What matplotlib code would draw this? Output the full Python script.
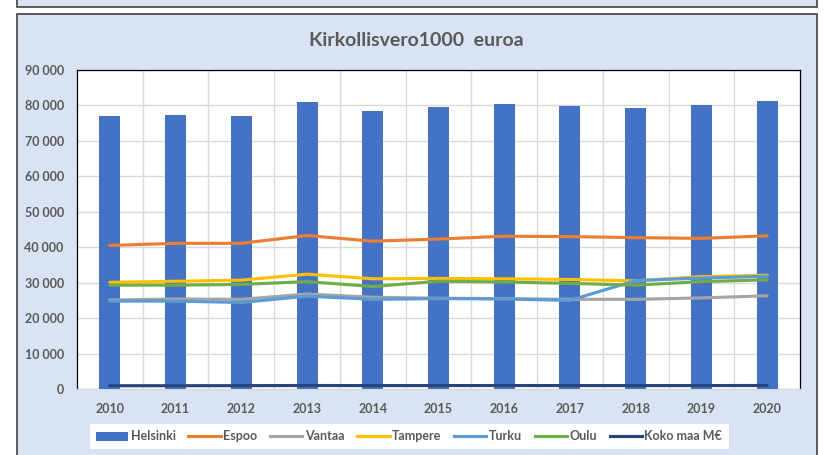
import matplotlib.pyplot as plt
from matplotlib.patches import Rectangle, Patch
from matplotlib.lines import Line2D
from matplotlib.ticker import FuncFormatter, MultipleLocator

years = ['2010', '2011', '2012', '2013', '2014', '2015', '2016', '2017', '2018', '2019', '2020']
helsinki = [77000, 77300, 77000, 81000, 78500, 79500, 80300, 79900, 79300, 80000, 81300]
espoo = [40500, 41100, 41100, 43300, 41700, 42300, 43100, 43000, 42700, 42500, 43200]
vantaa = [25100, 25400, 25300, 26800, 25900, 25600, 25500, 25300, 25300, 25700, 26300]
tampere = [30100, 30400, 30700, 32400, 31100, 31200, 31100, 30900, 30500, 31700, 32100]
turku = [24800, 24800, 24400, 26200, 25300, 25500, 25400, 25000, 30600, 31300, 31800]
oulu = [29300, 29300, 29500, 30300, 28900, 30400, 30200, 29800, 29300, 30300, 30800]
koko_maa = [920, 930, 940, 990, 960, 970, 980, 970, 960, 970, 990]

line_series = [
    ('Espoo', espoo, '#ED7D31'),
    ('Vantaa', vantaa, '#A5A5A5'),
    ('Tampere', tampere, '#FFC000'),
    ('Turku', turku, '#5B9BD5'),
    ('Oulu', oulu, '#70AD47'),
    ('Koko maa M€', koko_maa, '#264478'),
]

plt.rcParams['font.family'] = ['Lato', 'DejaVu Sans']
text_grey = '#595959'
small = 9

fig = plt.figure(figsize=(8.33, 4.55), dpi=100)
W, H = 833, 455

# top box (cut off) and chart area box
fig.patches.append(Rectangle((17 / W, 1 - 7 / H), 800 / W, 20 / H, transform=fig.transFigure,
                             facecolor='#DAE3F3', edgecolor='#404040', lw=1.2, zorder=-5))
fig.patches.append(Rectangle((17 / W, -0.05), 800 / W, 1 - 14 / H + 0.05, transform=fig.transFigure,
                             facecolor='#DAE3F3', edgecolor='#404040', lw=1.2, zorder=-5))

ax = fig.add_axes([77 / W, 1 - 389 / H, 723 / W, 319 / H])
x = list(range(len(years)))

ax.bar(x, helsinki, width=0.32, color='#4472C4', zorder=3)
for name, vals, col in line_series:
    ax.plot(x, vals, color=col, lw=2.25, zorder=4, solid_capstyle='round')

ax.set_xlim(-0.5, len(years) - 0.5)
ax.set_ylim(0, 90000)
ax.yaxis.set_major_locator(MultipleLocator(10000))
ax.yaxis.set_major_formatter(FuncFormatter(lambda v, p: f'{int(v):,}'.replace(',', ' ')))
ax.set_xticks(x)
ax.set_xticklabels(years)

# vertical grid at category boundaries
ax.set_xticks([i + 0.5 for i in x[:-1]], minor=True)
ax.grid(axis='y', which='major', color='#D9D9D9', lw=1, zorder=0)
ax.grid(axis='x', which='minor', color='#D9D9D9', lw=1, zorder=0)
ax.set_axisbelow(True)
ax.tick_params(which='both', length=0)
ax.tick_params(axis='y', pad=9.5)
ax.tick_params(axis='x', pad=10)
for lab in ax.get_xticklabels() + ax.get_yticklabels():
    lab.set_fontsize(small)
    lab.set_fontweight('bold')
    lab.set_color(text_grey)

for s in ['left', 'top', 'right']:
    ax.spines[s].set_color('#000000')
    ax.spines[s].set_linewidth(0.9)
ax.spines['bottom'].set_color('#D9D9D9')
ax.spines['bottom'].set_linewidth(1)

fig.text(0.5, 1 - 41 / H, 'Kirkollisvero1000  euroa', ha='center', va='center',
         fontsize=14, fontweight='bold', color=text_grey)

handles = [Patch(facecolor='#4472C4', label='Helsinki')]
for name, vals, col in line_series:
    handles.append(Line2D([], [], color=col, lw=2.25, label=name))

leg = fig.legend(handles=handles, loc='center', bbox_to_anchor=(409 / W, 1 - 436.5 / H),
                 ncol=7, frameon=True, fancybox=False, fontsize=small, handlelength=2.6,
                 handletextpad=0.2, columnspacing=1.0, borderpad=0.5, borderaxespad=0)
leg.get_frame().set_facecolor('white')
leg.get_frame().set_edgecolor('none')
leg.get_frame().set_alpha(1)
for t in leg.get_texts():
    t.set_fontweight('bold')
    t.set_color(text_grey)

fig.savefig('out.png', dpi=100)
